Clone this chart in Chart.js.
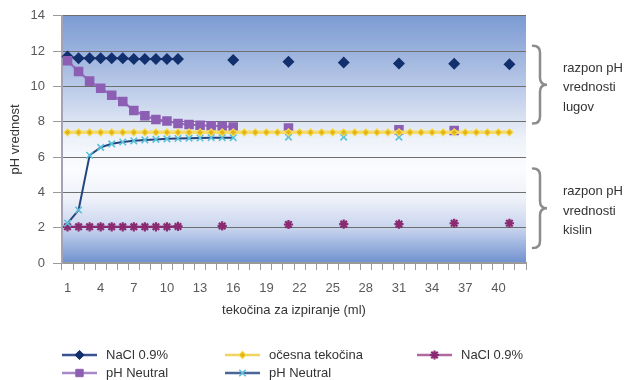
<!DOCTYPE html>
<html>
<head>
<meta charset="utf-8">
<script src="https://cdn.jsdelivr.net/npm/chart.js@4/dist/chart.umd.min.js"></script>
<style>
  html, body { margin: 0; padding: 0; background: #ffffff; }
  #wrap { width: 624px; height: 380px; position: relative; }
</style>
</head>
<body>
<div id="wrap"><canvas id="chart" width="624" height="380"></canvas></div>
<script>
// Rinse volume categories (ml)
const volumes = ['1','2','3','4','5','6','7','8','9','10','11','12','13','14','15','16','17','18','19','20','21',
                 '22','23','24','25','26','27','28','29','30','31','32','33','34','35','36','37','38','39','40','41','42'];
// Labels printed under the axis
const shownTicks = ['1','4','7','10','13','16','19','22','25','28','31','34','37','40'];

// pH readings per rinse volume (null = not measured)
const naclAlkali = [11.7,11.6,11.6,11.6,11.6,11.6,11.55,11.55,11.55,11.55,11.55, null,null,null,null, 11.5,
                    null,null,null,null, 11.4, null,null,null,null, 11.35, null,null,null,null, 11.3,
                    null,null,null,null, 11.28, null,null,null,null, 11.25, null];
const phNeutralAlkali = [11.45,10.85,10.3,9.9,9.5,9.15,8.64,8.34,8.13,8.04,7.9,7.84,7.8,7.77,7.75,7.7,
                    null,null,null,null, 7.65, null,null,null,null, null, null,null,null,null, 7.55,
                    null,null,null,null, 7.5, null,null,null,null, null, null];
const eyeFluid = [7.4,7.4,7.4,7.4,7.4,7.4,7.4,7.4,7.4,7.4,7.4,7.4,7.4,7.4,7.4,7.4,7.4,7.4,7.4,7.4,7.4,
                  7.4,7.4,7.4,7.4,7.4,7.4,7.4,7.4,7.4,7.4,7.4,7.4,7.4,7.4,7.4,7.4,7.4,7.4,7.4,7.4, null];
const naclAcid = [2.05,2.05,2.05,2.05,2.05,2.05,2.05,2.05,2.05,2.05,2.07, null,null,null, 2.1,
                  null,null,null,null,null, 2.18, null,null,null,null, 2.2, null,null,null,null, 2.2,
                  null,null,null,null, 2.25, null,null,null,null, 2.25, null];
const phNeutralAcid = [2.25,3.0,6.1,6.55,6.75,6.85,6.92,6.97,7.0,7.03,7.05,7.07,7.08,7.1,7.1,7.1,
                  null,null,null,null, 7.13, null,null,null,null, 7.13, null,null,null,null, 7.13,
                  null,null,null,null, null, null,null,null,null, null, null];

// Bracketed pH ranges drawn at the right of the plot
const ranges = [
  { from: 12.3, to: 7.9, lines: ['razpon pH', 'vrednosti', 'lugov'] },
  { from: 5.35, to: 0.85, lines: ['razpon pH', 'vrednosti', 'kislin'] }
];

const FONT = "'Liberation Sans', Arial, sans-serif";

const datasets = [
  { label: 'NaCl 0.9%', data: naclAlkali, borderColor: '#1f3a78', backgroundColor: '#13306e',
    pointStyle: 'rectRot', pointRadius: 4.6, pointBorderColor: '#13306e', borderWidth: 2, order: 3,
    legendLine: '#3a5390' },
  { label: 'očesna tekočina', data: eyeFluid, borderColor: '#f4da70', backgroundColor: '#e2b418',
    pointStyle: 'rectRot', pointRadius: 3.6, pointBorderColor: '#f6dc52', pointBorderWidth: 1.2, borderWidth: 3.5, order: 0,
    legendLine: '#f1d45e' },
  { label: 'NaCl 0.9%', data: naclAcid, borderColor: '#8a2a70', backgroundColor: '#8a2a70',
    pointStyle: 'star', pointRadius: 4.6, pointBorderColor: '#8a2a70', pointBorderWidth: 2.2, borderWidth: 2.2, order: 4,
    legendLine: '#b06aa0' },
  { label: 'pH Neutral', data: phNeutralAlkali, borderColor: '#9a6cc0', backgroundColor: '#8c5fb4',
    pointStyle: 'rect', pointRadius: 5.2, pointBorderColor: '#8c5fb4', borderWidth: 2.2, order: 1,
    legendLine: '#a789c6' },
  { label: 'pH Neutral', data: phNeutralAcid, borderColor: '#24457f', backgroundColor: '#58c2db',
    pointStyle: 'crossRot', pointRadius: 4.6, pointBorderColor: '#58c2db', pointBorderWidth: 1.6, borderWidth: 2, order: 2,
    legendLine: '#4a6697' }
];

// Blue-white-blue backdrop of the plot area
const backdrop = {
  id: 'backdrop',
  beforeDraw(chart) {
    const { ctx, chartArea: a } = chart;
    const g = ctx.createLinearGradient(0, a.top, 0, a.bottom);
    g.addColorStop(0, '#7b9bd2');
    g.addColorStop(0.28, '#b8c8e7');
    g.addColorStop(0.5, '#eef2f9');
    g.addColorStop(0.62, '#fbfcfe');
    g.addColorStop(0.74, '#eef1f9');
    g.addColorStop(0.86, '#c8d4ee');
    g.addColorStop(1, '#6f91cf');
    ctx.save();
    ctx.fillStyle = g;
    ctx.fillRect(a.left, a.top, a.right - a.left, a.bottom - a.top);
    ctx.restore();
  }
};

// Curly braces and captions for the acid / alkali ranges
const rangeNotes = {
  id: 'rangeNotes',
  afterDraw(chart) {
    const { ctx, scales: { y }, chartArea: a } = chart;
    const x0 = a.right + 7, w = 14, r = 7;
    ctx.save();
    ranges.forEach(rg => {
      const y1 = y.getPixelForValue(rg.from), y2 = y.getPixelForValue(rg.to);
      const ym = (y1 + y2) / 2, xm = x0 + w / 2;
      ctx.beginPath();
      ctx.moveTo(x0, y1);
      ctx.quadraticCurveTo(xm, y1, xm, y1 + r);
      ctx.lineTo(xm, ym - r);
      ctx.quadraticCurveTo(xm, ym, x0 + w, ym);
      ctx.quadraticCurveTo(xm, ym, xm, ym + r);
      ctx.lineTo(xm, y2 - r);
      ctx.quadraticCurveTo(xm, y2, x0, y2);
      ctx.strokeStyle = '#8c8c8c';
      ctx.lineWidth = 2.5;
      ctx.lineCap = 'round';
      ctx.stroke();
      ctx.fillStyle = '#333333';
      ctx.font = '13px ' + FONT;
      ctx.textBaseline = 'middle';
      ctx.textAlign = 'left';
      rg.lines.forEach((t, i) => ctx.fillText(t, a.right + 37, ym + 3 + (i - 1) * 19.5));
    });
    ctx.restore();
  }
};

// Three-column legend below the axis title
const gridLegend = {
  id: 'gridLegend',
  afterDraw(chart) {
    const { ctx } = chart;
    const cols = [62, 225, 417], rows = [355, 373];
    ctx.save();
    chart.data.datasets.forEach((ds, i) => {
      const x = cols[i % 3], yy = rows[Math.floor(i / 3)];
      ctx.beginPath();
      ctx.moveTo(x, yy); ctx.lineTo(x + 35, yy);
      ctx.strokeStyle = ds.legendLine; ctx.lineWidth = 2.5; ctx.stroke();
      ctx.fillStyle = ds.backgroundColor;
      ctx.strokeStyle = ds.pointBorderColor;
      ctx.lineWidth = ds.pointBorderWidth || 1;
      Chart.helpers.drawPoint(ctx, { pointStyle: ds.pointStyle, radius: ds.pointRadius, rotation: 0, borderWidth: ds.pointBorderWidth || 1 }, x + 17.5, yy);
      ctx.fillStyle = '#333333';
      ctx.font = '13px ' + FONT;
      ctx.textBaseline = 'middle';
      ctx.textAlign = 'left';
      ctx.fillText(ds.label, x + 44, yy);
    });
    ctx.restore();
  }
};

new Chart(document.getElementById('chart'), {
  type: 'line',
  data: { labels: volumes, datasets },
  plugins: [backdrop, rangeNotes, gridLegend],
  options: {
    responsive: false,
    devicePixelRatio: 1,
    animation: false,
    spanGaps: false,
    elements: { line: { tension: 0 }, point: { hoverRadius: 5 } },
    layout: { padding: { left: 0, right: 98, top: 15, bottom: 62 } },
    plugins: { legend: { display: false }, tooltip: { enabled: false } },
    scales: {
      x: {
        type: 'category',
        offset: true,
        afterFit: s => { s.height = 55; },
        grid: { offset: true, drawOnChartArea: false, tickLength: 7, color: '#9a9a9a', lineWidth: 1 },
        border: { color: '#9a9a9a', width: 2 },
        ticks: {
          autoSkip: false, maxRotation: 0, padding: 11,
          color: '#595959', font: { family: FONT, size: 13 },
          callback: function (v, i) { const l = this.getLabelForValue(v); return shownTicks.includes(l) ? l : ''; }
        },
        title: { display: true, text: 'tekočina za izpiranje (ml)', color: '#333333',
                 font: { family: FONT, size: 13 }, padding: { top: 0, bottom: 0 } }
      },
      y: {
        min: 0, max: 14,
        afterFit: s => { s.width = 62; },
        grid: { color: '#6e6e6e', lineWidth: 1, tickLength: 9, tickColor: '#9a9a9a' },
        border: { color: '#a3a3b3', width: 2 },
        ticks: { stepSize: 2, padding: 8, color: '#595959', font: { family: FONT, size: 13 } },
        title: { display: true, text: 'pH vrednost', color: '#333333',
                 font: { family: FONT, size: 13 }, padding: { top: 8, bottom: 0 } }
      }
    }
  }
});
</script>
</body>
</html>
